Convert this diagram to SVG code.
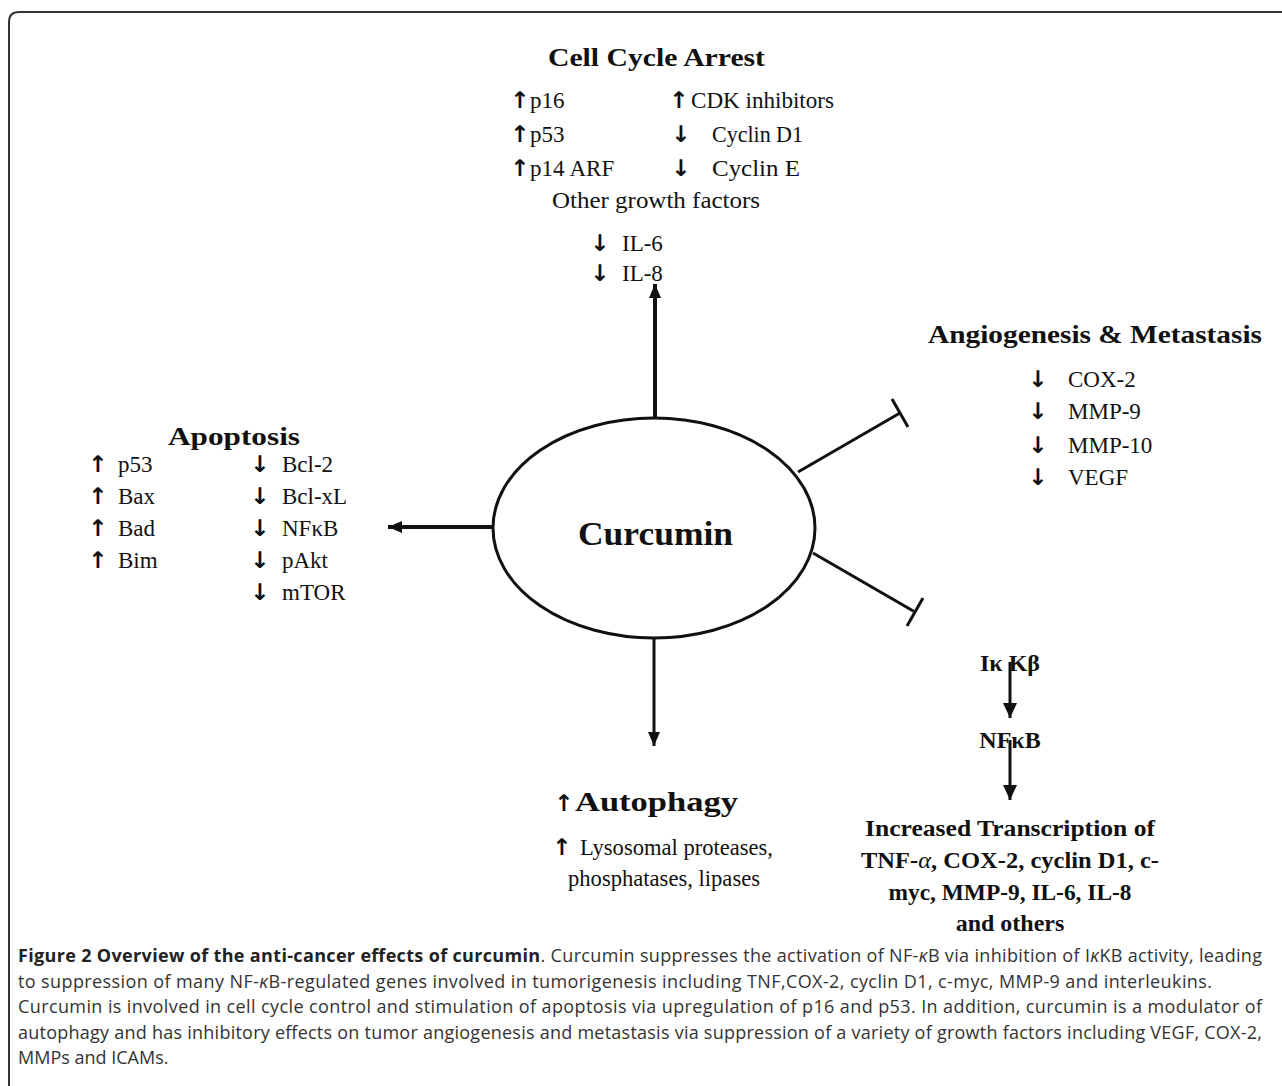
<svg xmlns="http://www.w3.org/2000/svg" width="1282" height="1086" viewBox="0 0 1282 1086">
<defs>
<style>
.t{font-family:"Liberation Serif","Times New Roman",serif;font-size:23px;fill:#111}
.h{font-family:"Liberation Serif","Times New Roman",serif;font-size:26px;font-weight:bold;fill:#111}
.b{font-family:"Liberation Serif","Times New Roman",serif;font-size:24px;font-weight:bold;fill:#111}
.a{font-family:"DejaVu Sans",sans-serif;font-size:23px;font-weight:bold;fill:#111;text-anchor:middle}
.cap{font-family:"Open Sans","Noto Sans",sans-serif;font-size:18px;fill:#333}
.ln{stroke:#111;fill:none;stroke-linecap:butt}
</style>
<marker id="ah" markerUnits="userSpaceOnUse" viewBox="0 0 15 14" refX="15" refY="7" markerWidth="15" markerHeight="14" orient="auto">
<path d="M0,0 L15,7 L0,14 z" fill="#111"/>
</marker>
<marker id="ahs" markerUnits="userSpaceOnUse" viewBox="0 0 14 12" refX="14" refY="6" markerWidth="14" markerHeight="12" orient="auto">
<path d="M0,0 L14,6 L0,12 z" fill="#111"/>
</marker>
</defs>
<rect width="1282" height="1086" fill="#fff"/>
<path d="M9 1090 V22 Q9 12 19 12 H1290" fill="none" stroke="#333" stroke-width="2"/>

<g id="connectors">
<line class="ln" x1="655" y1="418" x2="655" y2="284" stroke-width="4" marker-end="url(#ahs)"/>
<line class="ln" x1="494" y1="527" x2="388" y2="527" stroke-width="4" marker-end="url(#ahs)"/>
<line class="ln" x1="654" y1="638" x2="654" y2="746" stroke-width="3" marker-end="url(#ahs)"/>
<line class="ln" x1="798" y1="472" x2="900" y2="413" stroke-width="3"/>
<line class="ln" x1="892" y1="399" x2="908" y2="427" stroke-width="3"/>
<line class="ln" x1="813" y1="553" x2="915" y2="612" stroke-width="3"/>
<line class="ln" x1="923" y1="598" x2="907" y2="626" stroke-width="3"/>
<line class="ln" x1="1010" y1="662" x2="1010" y2="718" stroke-width="3" marker-end="url(#ah)"/>
<line class="ln" x1="1010" y1="740" x2="1010" y2="800" stroke-width="3" marker-end="url(#ah)"/>
</g>

<g id="curcumin">
<ellipse cx="654" cy="528" rx="161" ry="110" fill="#fff" stroke="#111" stroke-width="3"/>
<text class="h" x="578" y="545" style="font-size:34px" textLength="155" lengthAdjust="spacingAndGlyphs">Curcumin</text>
</g>

<g id="cell-cycle-arrest">
<text class="h" x="548" y="66" textLength="217" lengthAdjust="spacingAndGlyphs">Cell Cycle Arrest</text>
<text class="a" x="520" y="108">↑</text><text class="t" x="530" y="108">p16</text>
<text class="a" x="520" y="142">↑</text><text class="t" x="530" y="142">p53</text>
<text class="a" x="520" y="176">↑</text><text class="t" x="530" y="176">p14<tspan dx="5">ARF</tspan></text>
<text class="a" x="679" y="108">↑</text><text class="t" x="691" y="108" textLength="143" lengthAdjust="spacingAndGlyphs">CDK inhibitors</text>
<text class="a" x="681" y="142">↓</text><text class="t" x="712" y="142" textLength="91" lengthAdjust="spacingAndGlyphs">Cyclin D1</text>
<text class="a" x="681" y="176">↓</text><text class="t" x="712" y="176" textLength="88" lengthAdjust="spacingAndGlyphs">Cyclin E</text>
<text class="t" x="552" y="208" textLength="208" lengthAdjust="spacingAndGlyphs">Other growth factors</text>
<text class="a" x="600" y="251">↓</text><text class="t" x="622" y="251">IL-6</text>
<text class="a" x="600" y="281">↓</text><text class="t" x="622" y="281">IL-8</text>
</g>

<g id="angiogenesis">
<text class="h" x="928" y="343" textLength="334" lengthAdjust="spacingAndGlyphs">Angiogenesis &amp; Metastasis</text>
<text class="a" x="1038" y="387">↓</text><text class="t" x="1068" y="387">COX-2</text>
<text class="a" x="1038" y="419">↓</text><text class="t" x="1068" y="419">MMP-9</text>
<text class="a" x="1038" y="453">↓</text><text class="t" x="1068" y="453">MMP-10</text>
<text class="a" x="1038" y="485">↓</text><text class="t" x="1068" y="485">VEGF</text>
</g>

<g id="apoptosis">
<text class="h" x="168" y="445" textLength="132" lengthAdjust="spacingAndGlyphs">Apoptosis</text>
<text class="a" x="98" y="472">↑</text><text class="t" x="118" y="472">p53</text>
<text class="a" x="98" y="504">↑</text><text class="t" x="118" y="504">Bax</text>
<text class="a" x="98" y="536">↑</text><text class="t" x="118" y="536">Bad</text>
<text class="a" x="98" y="568">↑</text><text class="t" x="118" y="568">Bim</text>
<text class="a" x="260" y="472">↓</text><text class="t" x="282" y="472">Bcl-2</text>
<text class="a" x="260" y="504">↓</text><text class="t" x="282" y="504">Bcl-xL</text>
<text class="a" x="260" y="536">↓</text><text class="t" x="282" y="536">NFκB</text>
<text class="a" x="260" y="568">↓</text><text class="t" x="282" y="568">pAkt</text>
<text class="a" x="260" y="600">↓</text><text class="t" x="282" y="600">mTOR</text>
</g>

<g id="autophagy">
<text class="a" x="564" y="811">↑</text><text class="h" x="575" y="811" style="font-size:28px" textLength="163" lengthAdjust="spacingAndGlyphs">Autophagy</text>
<text class="a" x="562" y="855">↑</text><text class="t" x="580" y="855" textLength="193" lengthAdjust="spacingAndGlyphs">Lysosomal proteases,</text>
<text class="t" x="568" y="886" textLength="192" lengthAdjust="spacingAndGlyphs">phosphatases, lipases</text>
</g>

<g id="ikkb">
<text class="b" x="1010" y="671" text-anchor="middle">Iκ Kβ</text>
</g>
<g id="nfkb">
<text class="b" x="1010" y="748" text-anchor="middle">NFκB</text>
</g>
<g id="transcription">
<text class="b" x="1010" y="836" text-anchor="middle" textLength="290" lengthAdjust="spacingAndGlyphs">Increased Transcription of</text>
<text class="b" x="1010" y="868" text-anchor="middle" textLength="298" lengthAdjust="spacingAndGlyphs">TNF-<tspan font-style="italic" font-weight="normal">α</tspan>, COX-2, cyclin D1, c-</text>
<text class="b" x="1010" y="900" text-anchor="middle" textLength="243" lengthAdjust="spacingAndGlyphs">myc, MMP-9, IL-6, IL-8</text>
<text class="b" x="1010" y="931" text-anchor="middle">and others</text>
</g>

<g id="caption">
<text class="cap" x="18" y="962" textLength="1244" lengthAdjust="spacing"><tspan font-weight="bold" fill="#222">Figure 2 Overview of the anti-cancer effects of curcumin</tspan>. Curcumin suppresses the activation of NF-<tspan font-style="italic">κ</tspan>B via inhibition of I<tspan font-style="italic">κ</tspan>KB activity, leading</text>
<text class="cap" x="18" y="988" textLength="1194" lengthAdjust="spacing">to suppression of many NF-<tspan font-style="italic">κ</tspan>B-regulated genes involved in tumorigenesis including TNF,COX-2, cyclin D1, c-myc, MMP-9 and interleukins.</text>
<text class="cap" x="18" y="1013" textLength="1244" lengthAdjust="spacing">Curcumin is involved in cell cycle control and stimulation of apoptosis via upregulation of p16 and p53. In addition, curcumin is a modulator of</text>
<text class="cap" x="18" y="1039" textLength="1244" lengthAdjust="spacing">autophagy and has inhibitory effects on tumor angiogenesis and metastasis via suppression of a variety of growth factors including VEGF, COX-2,</text>
<text class="cap" x="18" y="1064">MMPs and ICAMs.</text>
</g>
</svg>
